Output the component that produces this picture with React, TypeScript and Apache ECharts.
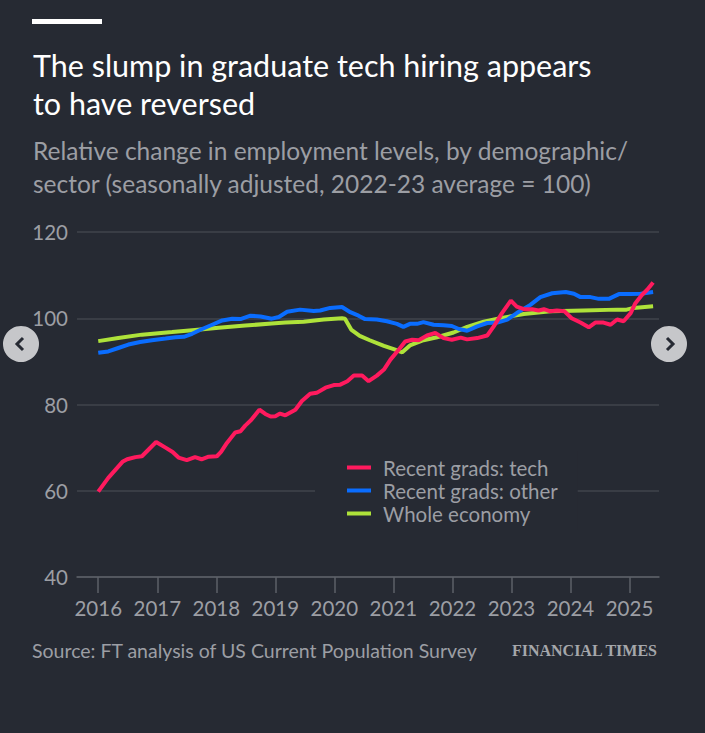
import React, { useEffect, useRef } from "react";
import * as echarts from "echarts";

const BG = "#262a33";
const TEXT_GRAY = "#9c9ea4";

const yearTicks = [2016, 2017, 2018, 2019, 2020, 2021, 2022, 2023, 2024, 2025];

const techDates = [2016.0, 2016.17, 2016.41, 2016.49, 2016.63, 2016.74, 2016.98, 2017.14, 2017.26, 2017.36, 2017.5, 2017.64, 2017.75, 2017.87, 2018.01, 2018.08, 2018.18, 2018.32, 2018.41, 2018.49, 2018.59, 2018.73, 2018.83, 2018.92, 2019.0, 2019.08, 2019.17, 2019.34, 2019.45, 2019.59, 2019.7, 2019.85, 2019.99, 2020.1, 2020.22, 2020.33, 2020.47, 2020.58, 2020.72, 2020.84, 2020.95, 2021.09, 2021.2, 2021.32, 2021.43, 2021.57, 2021.71, 2021.85, 2021.99, 2022.14, 2022.25, 2022.42, 2022.59, 2022.7, 2022.84, 2022.99, 2023.09, 2023.21, 2023.35, 2023.46, 2023.55, 2023.66, 2023.77, 2023.9, 2024.02, 2024.17, 2024.31, 2024.42, 2024.56, 2024.68, 2024.79, 2024.9, 2025.02, 2025.1, 2025.21, 2025.3, 2025.4];
const techValues = [59.8, 63.0, 66.7, 67.3, 67.8, 68.0, 71.3, 70.0, 69.0, 67.7, 67.1, 67.8, 67.3, 67.9, 68.0, 69.0, 71.1, 73.5, 73.8, 75.1, 76.4, 78.8, 77.8, 77.2, 77.3, 77.9, 77.5, 78.8, 80.8, 82.5, 82.7, 83.9, 84.5, 84.6, 85.4, 86.7, 86.7, 85.4, 86.7, 88.1, 90.4, 92.7, 94.6, 95.0, 94.9, 96.0, 96.6, 95.4, 95.0, 95.5, 95.1, 95.4, 96.0, 98.1, 101.2, 104.1, 102.7, 102.1, 102.1, 101.8, 102.1, 101.6, 101.8, 101.6, 100.0, 99.0, 97.9, 99.0, 99.0, 98.5, 99.7, 99.3, 101.2, 103.5, 105.4, 106.6, 108.3];

const otherDates = [2016.0, 2016.17, 2016.34, 2016.51, 2016.71, 2016.91, 2017.14, 2017.31, 2017.45, 2017.59, 2017.76, 2017.93, 2018.1, 2018.27, 2018.41, 2018.58, 2018.75, 2018.94, 2019.06, 2019.2, 2019.42, 2019.65, 2019.76, 2019.93, 2020.13, 2020.27, 2020.41, 2020.52, 2020.72, 2020.89, 2021.06, 2021.17, 2021.28, 2021.4, 2021.51, 2021.68, 2021.85, 2021.99, 2022.11, 2022.25, 2022.42, 2022.59, 2022.76, 2022.93, 2023.09, 2023.32, 2023.49, 2023.69, 2023.92, 2024.06, 2024.17, 2024.34, 2024.48, 2024.65, 2024.82, 2025.02, 2025.19, 2025.4];
const otherValues = [92.0, 92.3, 93.1, 93.9, 94.5, 94.9, 95.3, 95.6, 95.7, 96.4, 97.5, 98.5, 99.5, 99.9, 99.8, 100.6, 100.4, 99.9, 100.3, 101.5, 102.0, 101.7, 101.8, 102.4, 102.6, 101.4, 100.6, 99.8, 99.7, 99.3, 98.7, 98.0, 98.7, 98.7, 99.1, 98.5, 98.4, 98.2, 97.5, 97.1, 98.1, 98.9, 99.0, 99.7, 101.2, 103.1, 104.9, 105.8, 106.1, 105.7, 104.9, 104.9, 104.5, 104.5, 105.6, 105.6, 105.7, 106.1];

const wholeDates = [2016.0, 2016.34, 2016.74, 2017.25, 2017.64, 2018.04, 2018.49, 2018.94, 2019.17, 2019.48, 2019.82, 2020.13, 2020.18, 2020.29, 2020.43, 2020.6, 2020.84, 2021.03, 2021.15, 2021.28, 2021.51, 2021.74, 2022.02, 2022.25, 2022.53, 2022.81, 2023.21, 2023.66, 2024.22, 2024.79, 2024.95, 2025.07, 2025.4];
const wholeValues = [94.7, 95.4, 96.2, 96.8, 97.3, 97.8, 98.3, 98.8, 99.0, 99.2, 99.7, 100.0, 99.9, 97.3, 95.9, 94.9, 93.6, 92.7, 92.1, 93.7, 94.9, 95.6, 96.7, 98.0, 99.2, 100.0, 101.0, 101.6, 101.8, 102.0, 102.0, 102.4, 102.8];

const seriesNames = ["Recent grads: tech", "Recent grads: other", "Whole economy"];
const seriesColors = ["#ff1a5e", "#0a6dff", "#aee23a"];

const titleLines = ["The slump in graduate tech hiring appears", "to have reversed"];
const subtitleLines = ["Relative change in employment levels, by demographic/", "sector (seasonally adjusted, 2022-23 average = 100)"];
const sourceText = "Source: FT analysis of US Current Population Survey";

const pair = (xs: number[], ys: number[]) => xs.map((x, i) => [x, ys[i]]);

export default function App() {
  const ref = useRef<HTMLDivElement>(null);
  useEffect(() => {
    document.body.style.margin = "0";
    document.body.style.background = BG;
    const chart = echarts.init(ref.current!, null, { renderer: "svg" });
    const font = "Lato, 'Noto Sans', sans-serif";
    const chevron = (cx: number, cy: number, dir: number) => ({
      type: "polyline",
      shape: { points: [[cx - 3 * dir, cy - 6], [cx + 3 * dir, cy], [cx - 3 * dir, cy + 6]] },
      style: { stroke: BG, lineWidth: 3, fill: null },
      z: 101,
    });
    chart.setOption({
      animation: false,
      backgroundColor: BG,
      textStyle: { fontFamily: font },
      grid: { left: 77, right: 46, top: 232, bottom: 156 },
      xAxis: {
        type: "value",
        min: 2015.64,
        max: 2025.5,
        splitLine: { show: false },
        axisLine: { show: true, lineStyle: { color: "#5c6068", width: 1.5 } },
        axisTick: { show: true, customValues: yearTicks, length: 16, lineStyle: { color: "#5c6068", width: 1.5 } },
        axisLabel: {
          customValues: yearTicks,
          formatter: (v: number) => String(Math.round(v)),
          color: TEXT_GRAY,
          fontSize: 20.5,
          fontFamily: font,
          margin: 20,
        },
      },
      yAxis: {
        type: "value",
        min: 40,
        max: 120,
        interval: 20,
        axisLine: { show: false },
        axisTick: { show: false },
        splitLine: { lineStyle: { color: "#41454d", width: 1.5 } },
        axisLabel: { color: TEXT_GRAY, fontSize: 20.5, fontFamily: font, margin: 9 },
      },
      legend: {
        orient: "vertical",
        left: 315,
        top: 451,
        padding: [6, 20, 6, 32],
        backgroundColor: BG,
        data: seriesNames,
        icon: "rect",
        itemWidth: 24,
        itemHeight: 4,
        itemGap: 2,
        textStyle: { color: TEXT_GRAY, fontSize: 20.5, fontFamily: font, padding: [0, 0, 0, 7] },
        selectedMode: false,
      },
      series: [
        { name: seriesNames[2], type: "line", data: pair(wholeDates, wholeValues), showSymbol: false, lineStyle: { width: 4, color: seriesColors[2] }, itemStyle: { color: seriesColors[2] } },
        { name: seriesNames[1], type: "line", data: pair(otherDates, otherValues), showSymbol: false, lineStyle: { width: 4, color: seriesColors[1] }, itemStyle: { color: seriesColors[1] } },
        { name: seriesNames[0], type: "line", data: pair(techDates, techValues), showSymbol: false, lineStyle: { width: 4, color: seriesColors[0] }, itemStyle: { color: seriesColors[0] } },
      ],
      graphic: [
        { type: "rect", shape: { x: 32, y: 19, width: 70, height: 5 }, style: { fill: "#ffffff" } },
        { type: "text", x: 33, y: 65, style: { text: titleLines[0], fill: "#ffffff", fontSize: 30.5, fontFamily: font, verticalAlign: "middle" } },
        { type: "text", x: 33, y: 103, style: { text: titleLines[1], fill: "#ffffff", fontSize: 30.5, fontFamily: font, verticalAlign: "middle" } },
        { type: "text", x: 33, y: 150, style: { text: subtitleLines[0], fill: TEXT_GRAY, fontSize: 24.5, fontFamily: font, verticalAlign: "middle" } },
        { type: "text", x: 33, y: 183, style: { text: subtitleLines[1], fill: TEXT_GRAY, fontSize: 24.5, fontFamily: font, verticalAlign: "middle" } },
        { type: "text", x: 32, y: 650, style: { text: sourceText, fill: TEXT_GRAY, fontSize: 19.5, fontFamily: font, verticalAlign: "middle" } },
        { type: "text", x: 657, y: 650, style: { text: "FINANCIAL TIMES", fill: "#a5a7ab", fontSize: 16, fontWeight: "bold", fontFamily: "'Liberation Serif', 'DejaVu Serif', serif", align: "right", verticalAlign: "middle" } },
        { type: "circle", shape: { cx: 21, cy: 344, r: 18 }, style: { fill: "#c6c7ca" }, z: 100 },
        chevron(20, 344, -1),
        { type: "circle", shape: { cx: 669, cy: 344, r: 18 }, style: { fill: "#c6c7ca" }, z: 100 },
        chevron(670, 344, 1),
      ],
    });
    return () => chart.dispose();
  }, []);
  return <div ref={ref} style={{ width: 705, height: 733 }} />;
}
